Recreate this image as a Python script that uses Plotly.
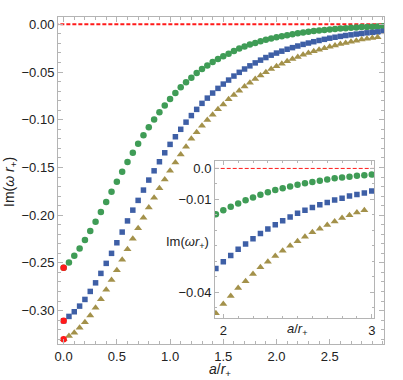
import plotly.graph_objects as go

a_vals = [round(0.05 * i, 2) for i in range(61)]

green = [-0.2551, -0.2495, -0.2425, -0.2348, -0.2261, -0.2167, -0.2069, -0.1966, -0.1861, -0.1755,
         -0.1650, -0.1545, -0.1443, -0.1346, -0.1252, -0.1162, -0.1078, -0.0996, -0.0920, -0.0850,
         -0.0783, -0.0720, -0.0660, -0.0608, -0.0560, -0.0510, -0.0469, -0.0430, -0.0395, -0.0364,
         -0.0335, -0.0308, -0.0280, -0.0254, -0.0232, -0.0212, -0.0195, -0.0178, -0.0162, -0.0148,
         -0.0135, -0.0124, -0.0113, -0.0103, -0.0094, -0.0085, -0.0077, -0.0070, -0.0064, -0.0058,
         -0.0053, -0.0048, -0.0044, -0.0040, -0.0036, -0.0032, -0.0029, -0.0027, -0.0024, -0.0022,
         -0.0020]

blue = [-0.3107, -0.3061, -0.3012, -0.2953, -0.2883, -0.2799, -0.2709, -0.2610, -0.2505, -0.2400,
        -0.2289, -0.2177, -0.2060, -0.1947, -0.1845, -0.1737, -0.1632, -0.1535, -0.1440, -0.1346,
        -0.1258, -0.1178, -0.1100, -0.1025, -0.0956, -0.0891, -0.0828, -0.0773, -0.0720, -0.0671,
        -0.0626, -0.0584, -0.0542, -0.0503, -0.0468, -0.0435, -0.0404, -0.0375, -0.0348, -0.0323,
        -0.0301, -0.0281, -0.0261, -0.0244, -0.0227, -0.0210, -0.0196, -0.0182, -0.0169, -0.0157,
        -0.0145, -0.0135, -0.0126, -0.0117, -0.0110, -0.0102, -0.0096, -0.0089, -0.0084, -0.0079,
        -0.0073]

brown = [-0.3299, -0.3267, -0.3233, -0.3180, -0.3121, -0.3051, -0.2971, -0.2880, -0.2782, -0.2680,
         -0.2576, -0.2467, -0.2358, -0.2247, -0.2138, -0.2027, -0.1920, -0.1818, -0.1719, -0.1625,
         -0.1535, -0.1447, -0.1363, -0.1283, -0.1200, -0.1131, -0.1063, -0.1003, -0.0948, -0.0891,
         -0.0839, -0.0786, -0.0741, -0.0696, -0.0652, -0.0612, -0.0573, -0.0536, -0.0501, -0.0468,
         -0.0438, -0.0412, -0.0386, -0.0364, -0.0341, -0.0319, -0.0301, -0.0283, -0.0266, -0.0250,
         -0.0235, -0.0221, -0.0206, -0.0195, -0.0183, -0.0171, -0.0160, -0.0151, -0.0142, -0.0135]

main_x_ticks = [0.0, 0.5, 1.0, 1.5, 2.0, 2.5]
main_x_text = ["0.0", "0.5", "1.0", "1.5", "2.0", "2.5"]
main_y_ticks = [0.0, -0.05, -0.10, -0.15, -0.20, -0.25, -0.30]
main_y_text = ["0.00", "\u22120.05", "\u22120.10", "\u22120.15", "\u22120.20", "\u22120.25", "\u22120.30"]
inset_x_ticks = [2, 3]
inset_x_text = ["2", "3"]
inset_y_ticks = [0.0, -0.01, -0.04]
inset_y_text = ["0.0", "\u22120.01", "\u22120.04"]

GREEN = "#3f9c56"
BLUE = "#3e5fa6"
BROWN = "#a3914a"
RED = "#ff1a1a"
FONT = "Liberation Sans"
FRAME = "#b4b4b4"

fig = go.Figure()

for xa, ya, lw in [("x", "y", 2), ("x2", "y2", 1)]:
    fig.add_trace(go.Scatter(x=[-0.2, 3.2], y=[0, 0], mode="lines", xaxis=xa, yaxis=ya,
                             line=dict(color=RED, width=lw, dash="4px,2px"), showlegend=False,
                             hoverinfo="skip"))
    fig.add_trace(go.Scatter(x=a_vals, y=green, mode="markers", xaxis=xa, yaxis=ya,
                             marker=dict(symbol="circle", size=6.5, color=GREEN), showlegend=False))
    fig.add_trace(go.Scatter(x=a_vals, y=blue, mode="markers", xaxis=xa, yaxis=ya,
                             marker=dict(symbol="square", size=5.5, color=BLUE), showlegend=False))
    fig.add_trace(go.Scatter(x=a_vals[:len(brown)], y=brown, mode="markers", xaxis=xa, yaxis=ya,
                             marker=dict(symbol="triangle-up", size=7, color=BROWN), showlegend=False))

fig.add_trace(go.Scatter(x=[a_vals[0]] * 3, y=[green[0], blue[0], brown[0]], mode="markers",
                         marker=dict(symbol="circle", size=6.5, color=RED), showlegend=False))

axis_common = dict(showline=True, linecolor=FRAME, linewidth=1, mirror="allticks",
                   ticks="inside", tickcolor=FRAME, showgrid=False, zeroline=False,
                   tickfont=dict(family=FONT, size=13, color="#222"))

fig.update_layout(
    width=403, height=380,
    margin=dict(l=58, r=19, t=17, b=36),
    paper_bgcolor="white", plot_bgcolor="white",
    xaxis=dict(range=[-0.053, 3.01], tickvals=main_x_ticks, ticktext=main_x_text, ticklen=5,
               minor=dict(dtick=0.1, tick0=0, ticklen=3, ticks="inside", tickcolor=FRAME),
               **axis_common),
    yaxis=dict(range=[-0.335, 0.0077], tickvals=main_y_ticks, ticktext=main_y_text, ticklen=5,
               minor=dict(dtick=0.01, tick0=0, ticklen=3, ticks="inside", tickcolor=FRAME),
               **axis_common),
    xaxis2=dict(domain=[0.4816, 0.9693], anchor="y2", range=[1.944, 3.015],
                tickvals=inset_x_ticks, ticktext=inset_x_text, ticklen=4,
                minor=dict(dtick=0.1, tick0=0, ticklen=2, ticks="inside", tickcolor=FRAME),
                **axis_common),
    yaxis2=dict(domain=[0.0795, 0.5606], anchor="x2", range=[-0.0483, 0.0025],
                tickvals=inset_y_ticks, ticktext=inset_y_text, ticklen=4,
                minor=dict(dtick=0.005, tick0=0, ticklen=2, ticks="inside", tickcolor=FRAME),
                **axis_common),
)

# annotations positioned in pixels, converted to paper coordinates
W, H = 403, 380
L, R, T, B = 58, 19, 17, 36
pw, ph = W - L - R, H - T - B

def px_to_paper(px, py):
    return (px - L) / pw, (H - B - py) / ph

labels = [
    ("Im(<i>\u03c9 r</i><sub>+</sub>)", 10, 182, 14, -90),
    ("<i>a</i>/<i>r</i><sub>+</sub>", 220, 370, 14, 0),
    ("Im(<i>\u03c9r</i><sub>+</sub>)", 187, 242, 13, 0),
    ("<i>a</i>/<i>r</i><sub>+</sub>", 297, 329, 13, 0),
]
for text, px, py, size, ang in labels:
    xp, yp = px_to_paper(px, py)
    fig.add_annotation(text=text, x=xp, y=yp, xref="paper", yref="paper", showarrow=False,
                       textangle=ang, font=dict(family=FONT, size=size, color="#222"),
                       xanchor="center", yanchor="middle")

fig.write_html("out.html", config={"displayModeBar": False})

# remove default page margin so the figure sits at the window origin
with open("out.html", "r", encoding="utf-8") as f:
    html = f.read()
html = html.replace("<body>", "<body style=\"margin:0;padding:0;\">", 1)
with open("out.html", "w", encoding="utf-8") as f:
    f.write(html)
